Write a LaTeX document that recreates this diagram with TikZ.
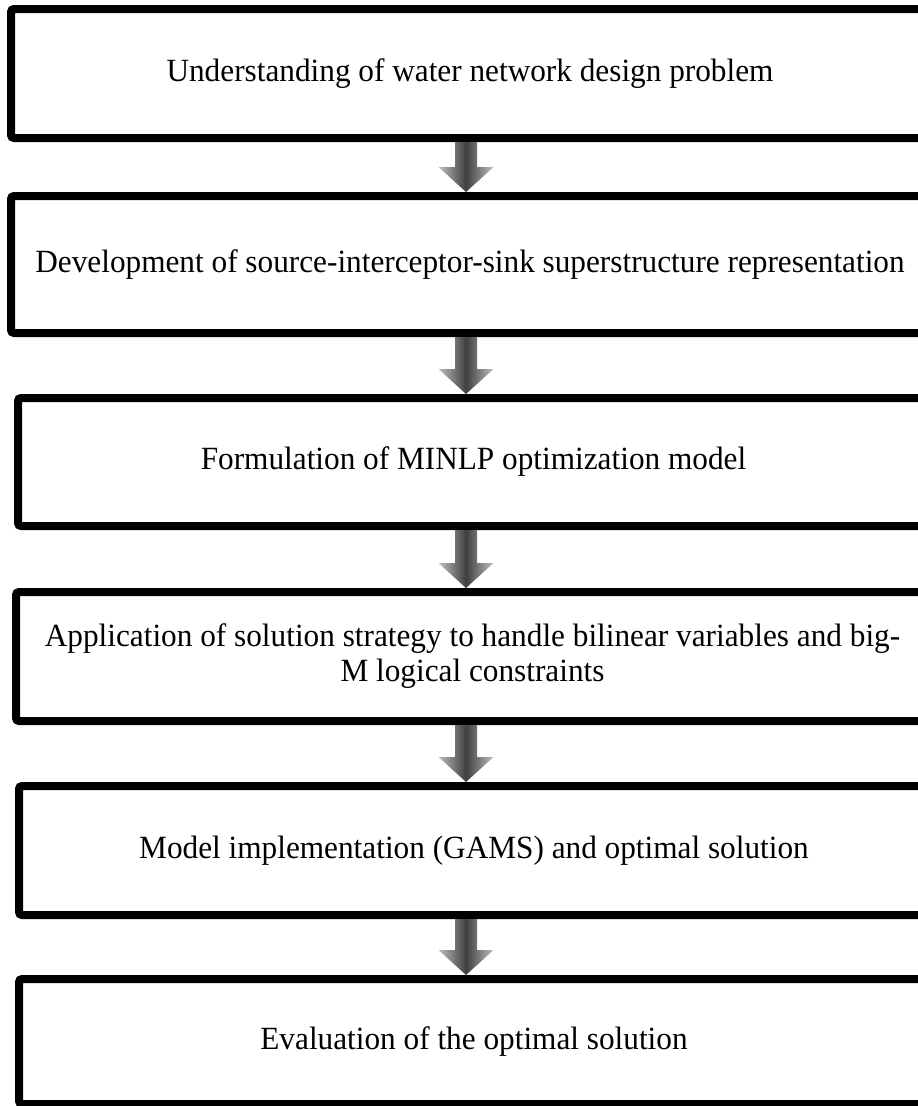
\documentclass[tikz,border=0pt]{standalone}
\usepackage{fontspec}
\setmainfont{Liberation Serif}[FakeStretch=0.965]
\usetikzlibrary{calc}

\tikzset{
  stagebox/.style={draw=black, line width=8pt, rounded corners=3pt,
    inner sep=0pt, align=center, minimum width=918pt,
    font=\fontsize{32.4pt}{35pt}\selectfont},
}

% grey block arrow from the bottom of one stage to the top of the next
\newcommand\stagearrow[2]{%
  \shade[left color=black!25, right color=black!25, middle color=black!75]
    ($(#1.south -| axis)+(-11,0)$) -- ($(#2.north -| axis)+(-11,-25)$)
    -- ($(#2.north -| axis)+(-27.5,-25)$) -- (#2.north -| axis)
    -- ($(#2.north -| axis)+(27.5,-25)$) -- ($(#2.north -| axis)+(11,-25)$)
    -- ($(#1.south -| axis)+(11,0)$) -- cycle;}

\begin{document}
\begin{tikzpicture}[x=1pt, y=-1pt]
  \useasboundingbox (0,0) rectangle (918,1106);
  \clip (0,0) rectangle (918,1106);
  \fill[white] (0,0) rectangle (918,1106);
  \coordinate (axis) at (466,0);

  \node[stagebox, minimum height=129pt] (b1) at (470,73.5)
    {Understanding of water network design problem};
  \node[stagebox, minimum height=137pt] (b2) at (470,264.5)
    {Development of source-interceptor-sink superstructure representation};
  \node[stagebox, minimum width=911pt, minimum height=128pt] (b3) at (473.5,462)
    {Formulation of MINLP optimization model};
  \node[stagebox, minimum width=913pt, minimum height=129pt] (b4) at (472.5,656.5)
    {Application of solution strategy to handle bilinear variables and big-\\M logical constraints};
  \node[stagebox, minimum width=910pt, minimum height=129pt] (b5) at (474,850.5)
    {Model implementation (GAMS) and optimal solution};
  \node[stagebox, minimum width=910pt, minimum height=125pt] (b6) at (474,1041.5)
    {Evaluation of the optimal solution};

  \stagearrow{b1}{b2}
  \stagearrow{b2}{b3}
  \stagearrow{b3}{b4}
  \stagearrow{b4}{b5}
  \stagearrow{b5}{b6}
\end{tikzpicture}
\end{document}
